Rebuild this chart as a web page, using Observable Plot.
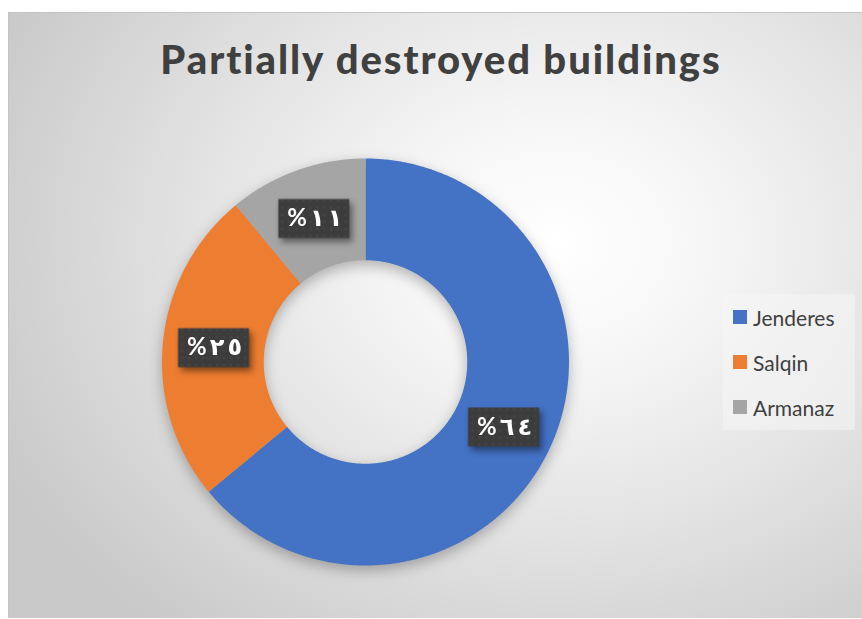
<!DOCTYPE html>
<html>
<head>
<meta charset="utf-8">
<script src="https://cdn.jsdelivr.net/npm/d3@7"></script>
<script src="https://cdn.jsdelivr.net/npm/@observablehq/plot@0.6"></script>
<style>
  html, body { margin: 0; padding: 0; background: #ffffff; }
  #wrap { position: relative; width: 862px; height: 619px; overflow: hidden; background: #ffffff; }
  #area {
    position: absolute; left: 8px; top: 12px; width: 854px; height: 605px;
    background: radial-gradient(ellipse 72% 82% at 64% 38%, #ffffff 0%, #f6f6f6 25%, #e2e2e2 60%, #c9c9c9 100%);
    border-top: 1px solid #c4c4c4; border-left: 1px solid #c4c4c4;
  }
  #title {
    position: absolute; left: 100px; width: 682px; top: 39px;
    text-align: center; font-family: Lato, "Open Sans", sans-serif; font-weight: 900;
    font-size: 40px; line-height: 40px; color: #404040; white-space: nowrap;
  }
  #chart { position: absolute; left: 0; top: 100px; }
  #chart g[aria-label="line"] { filter: drop-shadow(0px 5px 7px rgba(0,0,0,0.28)); }
  #chart g[aria-label="dot"] { filter: drop-shadow(3px 4px 3px rgba(0,0,0,0.45)); }
  #legend {
    position: absolute; left: 723px; top: 294px; width: 132px; height: 136px;
    background: rgba(245,245,245,0.55);
  }
  .item { position: absolute; left: 10px; height: 20px; display: flex; align-items: center;
    font-family: Lato, "Open Sans", sans-serif; font-size: 21px; color: #404040; }
  .sw { width: 14px; height: 14px; margin-right: 6px; }
</style>
</head>
<body>
<div id="wrap">
  <div id="area"></div>
  <div id="title"></div>
  <div id="chart"></div>
  <div id="legend"></div>
</div>
<script>
const titleText = "Partially destroyed buildings";
const categories = ["Jenderes", "Salqin", "Armanaz"];
const values = [64, 25, 11];
const colors = ["#4472C4", "#ED7D31", "#A5A5A5"];

const arDigits = "٠١٢٣٤٥٦٧٨٩";
// "%" then Arabic-Indic digits, spaced, forced into left-to-right display order
const fmt = v => "\u202D" + ["%", ...String(v).split("").map(d => arDigits[+d])].join("\u2009") + "\u202C";

// geometry (unit radius donut)
const R = 203.5;          // px per unit
const inner = 0.5;        // inner radius in units
const W = 862, H = 519;
const cx = 365, cy = 261.5; // center in svg px

const pie = d3.pie().sort(null).value(d => d.value).startAngle(0).endAngle(2 * Math.PI);
const arcs = pie(categories.map((name, i) => ({name, value: values[i]})));

const points = [];
for (const a of arcs) {
  const n = Math.max(8, Math.ceil((a.endAngle - a.startAngle) / (Math.PI / 360)));
  for (let k = 0; k <= n; k++) {
    const t = a.startAngle + (a.endAngle - a.startAngle) * k / n;
    points.push({name: a.data.name, x: Math.sin(t), y: Math.cos(t)});
  }
  for (let k = n; k >= 0; k--) {
    const t = a.startAngle + (a.endAngle - a.startAngle) * k / n;
    points.push({name: a.data.name, x: inner * Math.sin(t), y: inner * Math.cos(t)});
  }
}

const mid = (1 + inner) / 2;
const labels = arcs.map(a => {
  const t = (a.startAngle + a.endAngle) / 2;
  return {name: a.data.name, text: fmt(a.data.value), x: mid * Math.sin(t), y: mid * Math.cos(t)};
});

const boxSymbol = { draw(ctx) { ctx.rect(-35.5, -19.5, 71, 39); } };

const plot = Plot.plot({
  width: W, height: H,
  margin: 0,
  style: {background: "transparent", overflow: "visible"},
  x: {domain: [-cx / R, (W - cx) / R], axis: null},
  y: {domain: [(cy - H) / R, cy / R], axis: null},
  color: {domain: categories, range: colors},
  marks: [
    Plot.line(points, {x: "x", y: "y", z: "name", fill: "name", stroke: "none", curve: "linear-closed"}),
    Plot.dot(labels, {x: "x", y: "y", symbol: boxSymbol, r: 10, fill: "url(#dotpat)", stroke: "none"}),
    Plot.text(labels, {x: "x", y: "y", text: "text", fill: "white", fontSize: 24, fontWeight: "bold",
      dx: 1, fontFamily: "Lato, 'DejaVu Sans', sans-serif"})
  ]
});

// pattern for the label boxes
const ns = "http://www.w3.org/2000/svg";
const defs = document.createElementNS(ns, "defs");
defs.innerHTML = `<pattern id="dotpat" patternUnits="userSpaceOnUse" width="7" height="7">
  <rect width="7" height="7" fill="#3c3c3c"/>
  <circle cx="3.5" cy="3.5" r="1.1" fill="#4d4d4d"/></pattern>`;
plot.insertBefore(defs, plot.firstChild);
document.getElementById("chart").appendChild(plot);

// title, fitted to the reference width
const t = document.getElementById("title");
{
  const span = document.createElement("span");
  span.textContent = titleText;
  span.style.cssText = "font: inherit; white-space: nowrap;";
  t.appendChild(span);
  const w = span.getBoundingClientRect().width;
  const target = 562;
  const ls = (target - w) / titleText.length;
  span.style.letterSpacing = ls + "px";
}

// legend
const lg = document.getElementById("legend");
const centers = [317, 362, 407];
categories.forEach((c, i) => {
  const it = document.createElement("div");
  it.className = "item";
  it.style.top = (centers[i] - 294 - 10) + "px";
  const sw = document.createElement("div");
  sw.className = "sw";
  sw.style.background = colors[i];
  const tx = document.createElement("span");
  tx.textContent = c;
  it.appendChild(sw); it.appendChild(tx);
  lg.appendChild(it);
});
</script>
</body>
</html>
